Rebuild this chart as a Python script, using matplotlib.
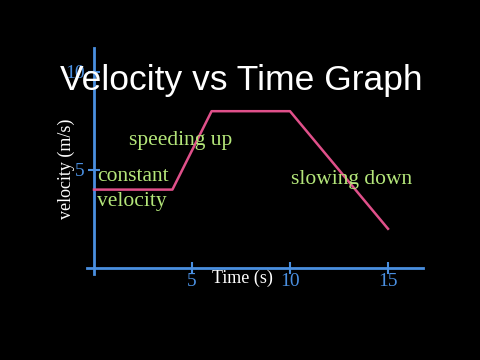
import matplotlib.pyplot as plt

# velocity vs time data
times = [0, 4, 6, 10, 15]
velocities = [4, 4, 8, 8, 2]
x_ticks = [5, 10, 15]
y_ticks = [5, 10]

BLUE = '#4a8fe0'
PINK = '#e0508a'
GREEN = '#b4e67a'
SERIF = ['Liberation Serif', 'DejaVu Serif']

fig = plt.figure(figsize=(4.8, 3.6), dpi=100, facecolor='black')
ax = fig.add_axes([0, 0, 1, 1], facecolor='black')
ax.set_xlim(-94 / 19.6, 386 / 19.6)
ax.set_ylim(-92 / 19.6, 268 / 19.6)

# axes drawn as spines through the origin
for side in ['top', 'right']:
    ax.spines[side].set_visible(False)
ax.spines['left'].set_position(('data', 0))
ax.spines['bottom'].set_position(('data', 0))
ax.spines['left'].set_bounds(-0.3, 11.2)
ax.spines['bottom'].set_bounds(-0.35, 16.8)
for side in ['left', 'bottom']:
    ax.spines[side].set_color(BLUE)
    ax.spines[side].set_linewidth(2)

ax.set_xticks(x_ticks)
ax.set_yticks(y_ticks)
ax.tick_params(colors=BLUE, direction='inout', length=9, width=1.5,
               labelsize=14)
ax.tick_params(axis='x', pad=-1)
ax.tick_params(axis='y', pad=2)
for lab in ax.get_xticklabels() + ax.get_yticklabels():
    lab.set_family(SERIF)
    lab.set_zorder(1)

ax.plot(times, velocities, color=PINK, lw=1.8, zorder=3)

ax.text(7.5, 9.08, 'Velocity vs Time Graph', color='white', fontsize=25.5,
        family=['Liberation Sans', 'DejaVu Sans'], ha='center', va='baseline',
        zorder=10)

ax.text(1.79, 6.28, 'speeding up', color=GREEN, fontsize=15.5, family=SERIF,
        va='baseline')
ax.text(0.15, 4.44, 'constant', color=GREEN, fontsize=15.5, family=SERIF,
        va='baseline')
ax.text(0.15, 3.16, 'velocity', color=GREEN, fontsize=15.5, family=SERIF,
        va='baseline')
ax.text(10.05, 4.29, 'slowing down', color=GREEN, fontsize=15.5, family=SERIF,
        va='baseline')

ax.text(6.02, -0.77, 'Time (s)', color='white', fontsize=13, family=SERIF,
        va='baseline')
ax.text(-1.43, 5.05, 'velocity (m/s)', color='white', fontsize=13,
        family=SERIF, rotation=90, ha='center', va='center')

fig.savefig('out.png', dpi=100, facecolor='black')
